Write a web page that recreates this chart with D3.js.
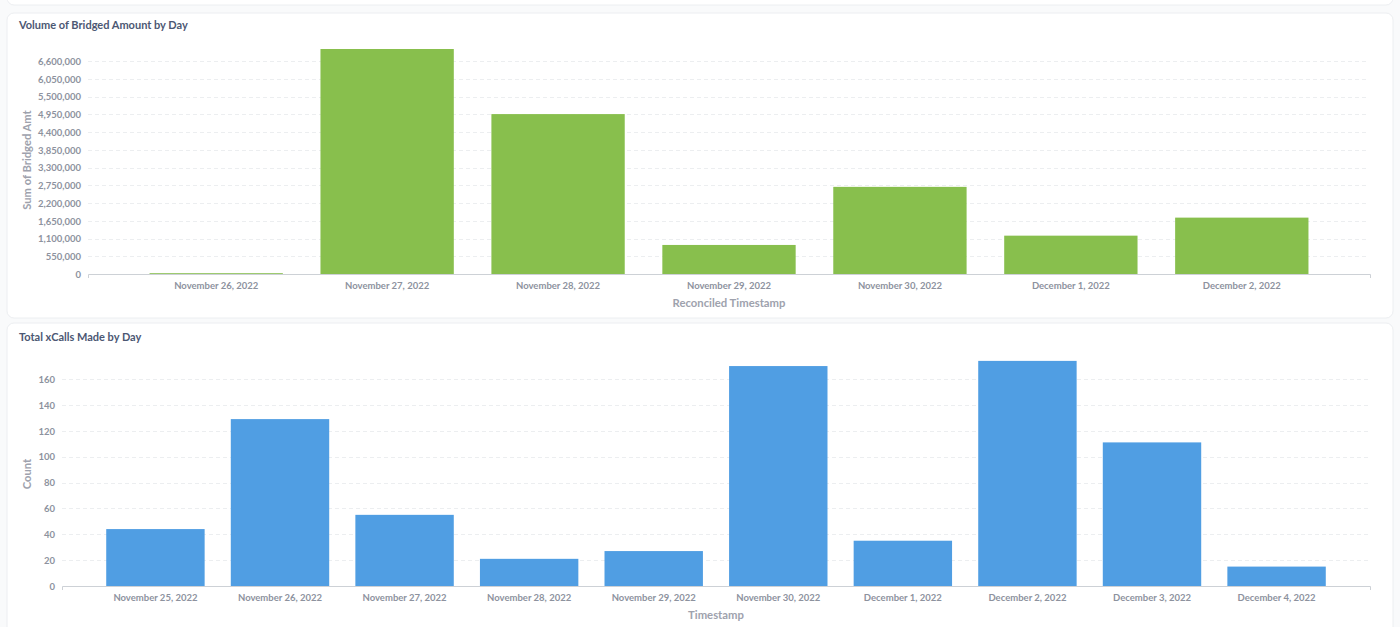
<!DOCTYPE html>
<html>
<head>
<meta charset="utf-8">
<script src="https://cdn.jsdelivr.net/npm/d3@7"></script>
<style>
	body { margin: 0; background: #f9fafb; font-family: Lato, "Open Sans", sans-serif; }
	svg { display: block; }
</style>
</head>
<body>
<script>
// top chart: volume of bridged amount
var bridgedDays = ["November 26, 2022","November 27, 2022","November 28, 2022","November 29, 2022","November 30, 2022","December 1, 2022","December 2, 2022"];
var bridgedAmt = [25000, 6972000, 4955000, 900000, 2700000, 1188000, 1747000];
var bridgedTicks = [0, 550000, 1100000, 1650000, 2200000, 2750000, 3300000, 3850000, 4400000, 4950000, 5500000, 6050000, 6600000];

// bottom chart: xcalls count
var xcallDays = ["November 25, 2022","November 26, 2022","November 27, 2022","November 28, 2022","November 29, 2022","November 30, 2022","December 1, 2022","December 2, 2022","December 3, 2022","December 4, 2022"];
var xcallCount = [44, 129, 55, 21, 27, 170, 35, 174, 111, 15];
var xcallTicks = [0, 20, 40, 60, 80, 100, 120, 140, 160];

var width = 1400,
	height = 627;

var svg = d3.select("body").append("svg")
			.attr("width", width)
			.attr("height", height);

// cards
var cards = [[-30, 35], [13, 305], [323, 330]];
svg.selectAll(".card")
	.data(cards)
	.enter()
	.append("rect")
	.attr("class", "card")
	.attr("x", 7)
	.attr("y", function(d){ return d[0]; })
	.attr("width", 1386)
	.attr("height", function(d){ return d[1]; })
	.attr("rx", 7)
	.style("fill", "#fff")
	.style("stroke", "#eceef1");

function drawBars(opt){
	var g = svg.append("g");

	var x = d3.scaleBand()
		.domain(opt.cats)
		.range([opt.left, 1370])
		.paddingInner(opt.pin)
		.paddingOuter(opt.pout);

	var y = d3.scaleLinear()
		.domain([0, opt.ticks[opt.ticks.length - 1]])
		.range([opt.bottom, opt.top]);

	g.append("text")
		.attr("x", 19)
		.attr("y", opt.titleY)
		.style("font-size", "11px")
		.style("font-weight", "bold")
		.style("fill", "#4c5773")
		.text(opt.title);

	// dashed grid
	g.selectAll(".grid")
		.data(opt.ticks.slice(1))
		.enter()
		.append("line")
		.attr("x1", opt.left)
		.attr("x2", 1368)
		.attr("y1", function(d){ return Math.round(y(d)) + 0.5; })
		.attr("y2", function(d){ return Math.round(y(d)) + 0.5; })
		.style("stroke", "#eceef0")
		.style("stroke-dasharray", "4,3");

	var yAxis = g.append("g")
		.attr("transform", "translate(" + (opt.left - 7) + ",0)")
		.call(d3.axisLeft(y).tickValues(opt.ticks).tickSize(0).tickPadding(0).tickFormat(d3.format(",")));
	yAxis.select(".domain").remove();
	yAxis.selectAll("text")
		.attr("dy", "0.35em")
		.style("font-family", "Lato, sans-serif")
		.style("font-size", "9.5px")
		.style("font-weight", "bold")
		.style("fill", "#8d929e");

	var xAxis = g.append("g")
		.attr("transform", "translate(0," + opt.bottom + ")")
		.call(d3.axisBottom(x).tickSizeInner(0).tickSizeOuter(4).tickPadding(8));
	xAxis.select(".domain")
		.style("stroke", "#cdd1d6");
	xAxis.selectAll("text")
		.style("font-family", "Lato, sans-serif")
		.style("font-size", "9.5px")
		.style("font-weight", "bold")
		.style("fill", "#8d929e");

	// bars sit on top of the axis line
	g.selectAll(".bar")
		.data(opt.vals)
		.enter()
		.append("rect")
		.attr("class", "bar")
		.attr("x", function(d, i){ return x(opt.cats[i]); })
		.attr("y", function(d){ return y(d); })
		.attr("width", x.bandwidth())
		.attr("height", function(d){ return opt.bottom - y(d); })
		.style("fill", opt.color);

	g.append("text")
		.attr("x", (opt.left + 1370) / 2)
		.attr("y", opt.bottom + 33)
		.attr("text-anchor", "middle")
		.style("font-size", "11.3px")
		.style("font-weight", "bold")
		.style("fill", "#9ea2ad")
		.text(opt.xTitle);

	g.append("text")
		.attr("transform", "translate(31," + opt.yTitleY + ") rotate(-90)")
		.attr("text-anchor", "middle")
		.style("font-size", "11.2px")
		.style("font-weight", "bold")
		.style("fill", "#9ea2ad")
		.text(opt.yTitle);
}

drawBars({
	cats: bridgedDays, vals: bridgedAmt, ticks: bridgedTicks,
	left: 88, top: 61, bottom: 274, pin: 0.22, pout: 0.36,
	color: "#88bf4d", title: "Volume of Bridged Amount by Day", titleY: 29,
	xTitle: "Reconciled Timestamp", yTitle: "Sum of Bridged Amt", yTitleY: 160
});

drawBars({
	cats: xcallDays, vals: xcallCount, ticks: xcallTicks,
	left: 62, top: 379, bottom: 586, pin: 0.21, pout: 0.355,
	color: "#509ee3", title: "Total xCalls Made by Day", titleY: 341,
	xTitle: "Timestamp", yTitle: "Count", yTitleY: 474
});
</script>
</body>
</html>
